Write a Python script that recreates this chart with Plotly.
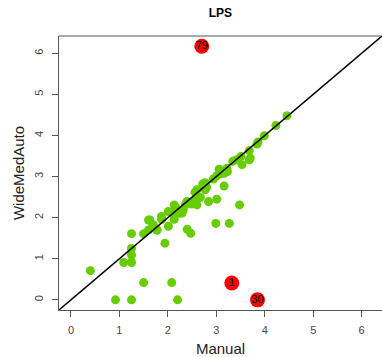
import plotly.graph_objects as go

# Green points (Manual, WideMedAuto)
manual = [0.40, 0.92, 1.25, 1.50, 2.08, 2.20, 1.09, 1.25, 1.25, 1.25,
          1.25, 1.50, 1.60, 1.60, 1.69, 1.78, 1.87, 1.87, 1.94, 2.01,
          2.13, 2.01, 2.13, 2.16, 2.24, 2.29, 2.32, 2.36, 2.39, 2.49,
          2.53, 2.60, 2.67, 2.56, 2.60, 2.40, 2.47, 2.84, 3.01, 2.77,
          2.80, 2.72, 2.77, 2.94, 3.01, 3.06, 3.11, 3.16, 3.23, 3.16,
          2.99, 3.27, 3.48, 3.34, 3.42, 3.51, 3.53, 3.68, 3.70, 3.68,
          3.84, 3.86, 3.99, 4.23, 4.46, 1.63, 1.70, 1.77, 2.09, 3.22]
auto = [0.71, 0.00, 0.00, 0.42, 0.42, 0.00, 0.91, 0.91, 1.09, 1.25,
        1.61, 1.61, 1.94, 1.70, 1.80, 1.70, 2.03, 1.96, 1.38, 1.79,
        1.96, 2.15, 2.31, 2.26, 2.11, 2.11, 2.19, 2.31, 2.39, 2.33,
        2.41, 2.31, 2.49, 2.62, 2.68, 1.72, 1.62, 2.39, 2.45, 2.68,
        2.74, 2.82, 2.85, 2.94, 3.02, 3.18, 3.07, 3.08, 3.12, 2.77,
        1.86, 1.86, 2.31, 3.37, 3.41, 3.49, 3.29, 3.63, 3.45, 3.41,
        3.79, 3.84, 3.99, 4.24, 4.48, 1.94, 1.82, 1.70, 2.11, 3.20]

# Outliers (labelled)
out_manual = [2.70, 3.32, 3.85]
out_auto = [6.17, 0.41, 0.00]
out_labels = ["79", "1", "30"]

tick_vals = [0, 1, 2, 3, 4, 5, 6]
axis_range = [-0.247, 6.42]
diag = [-1, 7]

fig = go.Figure()
fig.add_trace(go.Scatter(x=manual, y=auto, mode="markers",
                         marker=dict(color="#66CD00", size=9, line=dict(width=0)),
                         showlegend=False, hoverinfo="skip"))
fig.add_trace(go.Scatter(x=diag, y=diag, mode="lines",
                         line=dict(color="black", width=1.5),
                         showlegend=False, hoverinfo="skip"))
fig.add_trace(go.Scatter(x=out_manual, y=out_auto, mode="markers+text",
                         marker=dict(color="#FF0000", size=15, line=dict(width=0)),
                         text=out_labels, textposition="middle center",
                         textfont=dict(color="black", size=11, family="Liberation Sans"),
                         showlegend=False, hoverinfo="skip"))

axis_common = dict(range=axis_range, tickvals=tick_vals, showgrid=False, zeroline=False,
                   showline=True, linecolor="#555555", linewidth=1,
                   ticks="outside", ticklen=6, tickcolor="#555555",
                   tickfont=dict(family="Liberation Sans", size=11, color="#444444"))

fig.update_layout(
    width=382, height=357,
    margin=dict(l=59, r=0, t=36, b=47),
    paper_bgcolor="white", plot_bgcolor="white",
    title=dict(text="<b>LPS</b>", x=0.577, xanchor="center", y=0.965, yanchor="middle",
               font=dict(family="Liberation Sans", size=12, color="black")),
    xaxis=dict(**axis_common, mirror=False, ticklabelstandoff=4,
               title=dict(text="Manual", standoff=10,
                          font=dict(family="Liberation Sans", size=15, color="#222222"))),
    yaxis=dict(**axis_common, tickangle=-90, ticklabelstandoff=5,
               title=dict(text="WideMedAuto", standoff=4,
                          font=dict(family="Liberation Sans", size=15, color="#222222"))),
    shapes=[dict(type="line", xref="paper", yref="paper", x0=0, x1=1, y0=1, y1=1,
                 line=dict(color="#555555", width=1))],
)

fig.write_html("out.html")
